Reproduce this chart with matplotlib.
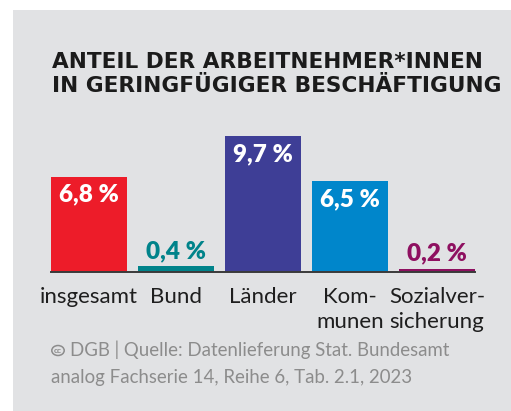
import matplotlib.pyplot as plt
from matplotlib.patches import Rectangle, Circle

W, H, DPI = 511, 411, 100

categories = ['insgesamt', 'Bund', 'Länder', 'Kom-\nmunen', 'Sozialver-\nsicherung']
values = [6.8, 0.4, 9.7, 6.5, 0.2]
value_labels = ['6,8 %', '0,4 %', '9,7 %', '6,5 %', '0,2 %']
colors = ['#ED1C29', '#00838A', '#3E3E96', '#0086CB', '#8E1060']

title_lines = ['ANTEIL DER ARBEITNEHMER*INNEN', 'IN GERINGFÜGIGER BESCHÄFTIGUNG']
source_1 = 'DGB | Quelle: Datenlieferung Stat. Bundesamt'
source_2 = 'analog Fachserie 14, Reihe 6, Tab. 2.1, 2023'

BG = '#E1E2E4'
BODY = 'Lato'
HEAD = 'DejaVu Sans'
GREY = '#8c8c8c'


def fx(x):
    return x / W


def fy(y):
    return 1 - y / H


fig = plt.figure(figsize=(W / DPI, H / DPI), dpi=DPI)
fig.patch.set_facecolor('white')
# grauer Kasten
fig.patches.append(Rectangle((fx(13), 0), 1 - fx(13), fy(10), transform=fig.transFigure,
                             facecolor=BG, edgecolor='none', zorder=-5))

# titel
for line, y in zip(title_lines, [67.5, 92]):
    fig.text(fx(52), fy(y), line, fontfamily=HEAD, fontweight='bold',
             fontsize=15.6, color='#1b1b1b', ha='left', va='baseline')

# balken
base_y, top_y = 271.7, 136
ax = fig.add_axes([fx(51), fy(base_y), fx(475) - fx(51), (base_y - top_y) / H])
ax.set_facecolor('none')
x = range(len(values))
ax.bar(x, values, width=0.8736, color=colors, zorder=2)
ax.set_xlim(-0.4368, len(values) - 1 + 0.4368)
ax.set_ylim(0, max(values))
ax.axis('off')
ax.axhline(0, color='#3a3a3a', lw=1.4, clip_on=False, zorder=3)

for i, (v, lab, c) in enumerate(zip(values, value_labels, colors)):
    if v > 2:
        ax.annotate(lab, (i, v), xytext=(0, -13), textcoords='offset points',
                    ha='center', va='center', fontfamily=BODY, fontweight='heavy',
                    fontsize=17.5, color='white')
    else:
        ax.annotate(lab, (i, v), xytext=(0, 3), textcoords='offset points',
                    ha='center', va='bottom', fontfamily=BODY, fontweight='heavy',
                    fontsize=17.5, color=c)

    ax.annotate(categories[i], (i, 0), xytext=(0, -11), textcoords='offset points',
                ha='center', va='top', fontfamily=BODY, fontsize=16,
                color='#1e1e1e', linespacing=1.3, multialignment='center',
                annotation_clip=False)

# quelle
fig.patches.append(Circle((fx(58), fy(350.5)), 6.2 / W, transform=fig.transFigure,
                          facecolor='none', edgecolor=GREY, lw=1.1))
fig.text(fx(58), fy(350.5), 'cc', fontfamily=BODY, fontweight='bold', fontsize=6,
         color=GREY, ha='center', va='center')
fig.text(fx(70), fy(356), source_1, fontfamily=BODY, fontsize=13.4, color=GREY,
         ha='left', va='baseline')
fig.text(fx(51), fy(383), source_2, fontfamily=BODY, fontsize=13.4, color=GREY,
         ha='left', va='baseline')

fig.savefig('out.png', dpi=DPI, facecolor=fig.get_facecolor())
